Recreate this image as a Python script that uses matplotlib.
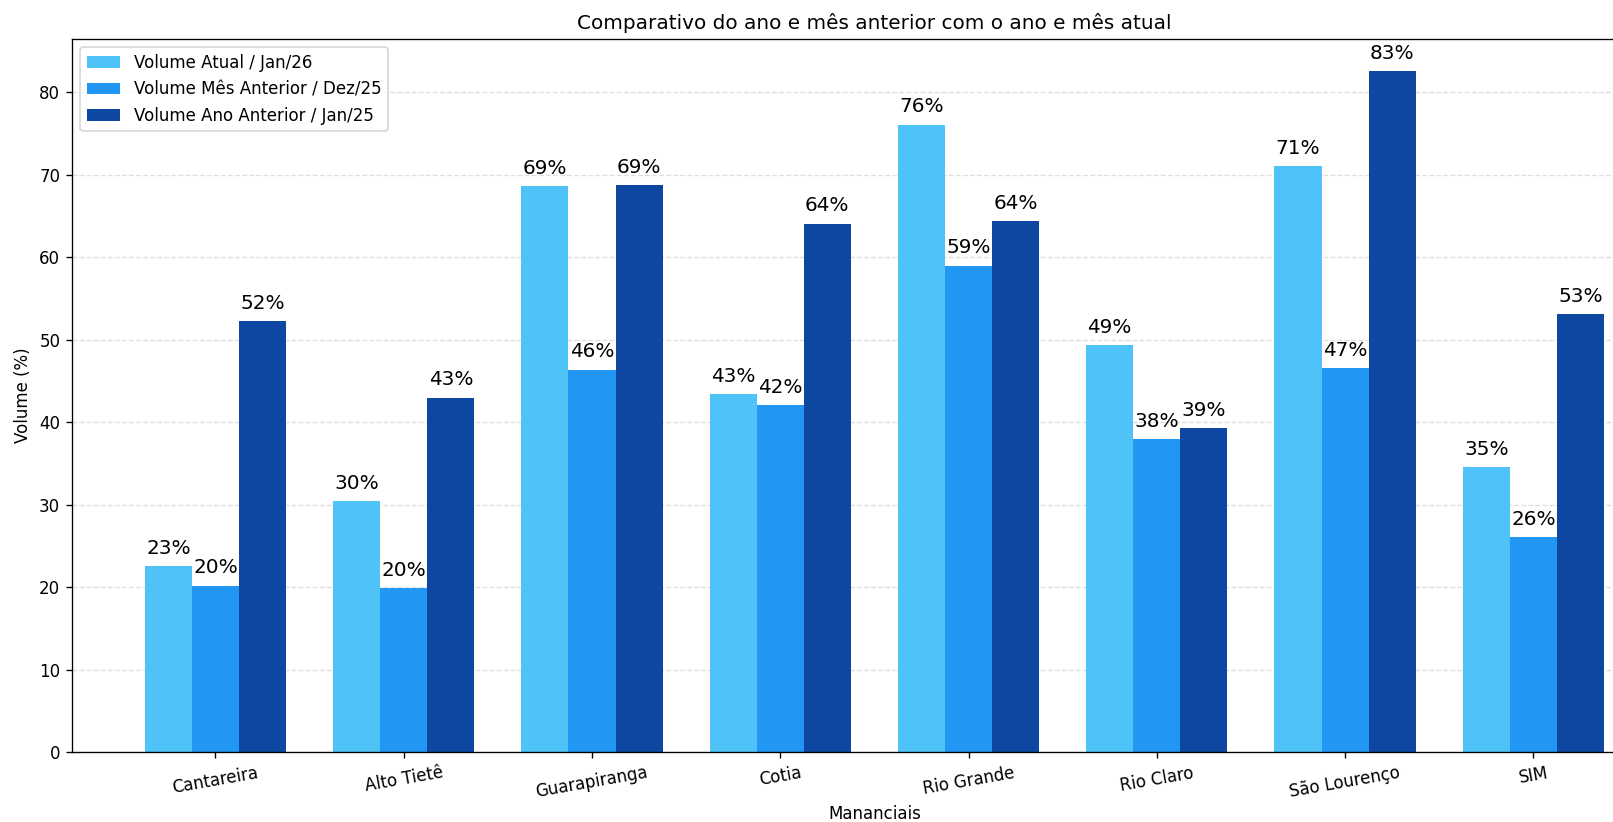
import matplotlib.pyplot as plt
import numpy as np

plt.rcParams['font.family'] = ['DejaVu Sans']

mananciais = ['Cantareira', 'Alto Tietê', 'Guarapiranga', 'Cotia', 'Rio Grande',
              'Rio Claro', 'São Lourenço', 'SIM']
atual = [22.6, 30.4, 68.6, 43.4, 76.1, 49.4, 71.1, 34.6]
mes_anterior = [20.2, 19.9, 46.4, 42.1, 59.0, 38.0, 46.6, 26.1]
ano_anterior = [52.3, 43.0, 68.8, 64.1, 64.4, 39.3, 82.6, 53.1]

labels = ['Volume Atual / Jan/26', 'Volume Mês Anterior / Dez/25', 'Volume Ano Anterior / Jan/25']
colors = ['#4FC3F7', '#2196F3', '#0D47A1']

dpi = 120
fig = plt.figure(figsize=(1613 / dpi, 822 / dpi), dpi=dpi)
# the axes run past the right edge, as in the (cropped) reference
ax = fig.add_axes([0.0446, 0.085, 0.995, 0.8675])

x = np.arange(len(mananciais))
width = 0.25
for i, (vals, lab, col) in enumerate(zip([atual, mes_anterior, ano_anterior], labels, colors)):
    pos = x + (i - 1) * width
    ax.bar(pos, vals, width, label=lab, color=col)
    for px, v in zip(pos, vals):
        ax.text(px, v + 1, f'{v:.0f}%', ha='center', va='bottom', fontsize=12)

ax.set_ylim(0, max(ano_anterior) * 1.047)
ax.set_xticks(x)
ax.set_xticklabels(mananciais, rotation=10)
ax.set_xlabel('Mananciais', labelpad=2)
ax.set_ylabel('Volume (%)')
ax.set_title('Comparativo do ano e mês anterior com o ano e mês atual')
ax.yaxis.grid(True, linestyle='--', alpha=0.4)
ax.set_axisbelow(True)
ax.legend(loc='upper left')

fig.savefig('out.png', dpi=dpi)
